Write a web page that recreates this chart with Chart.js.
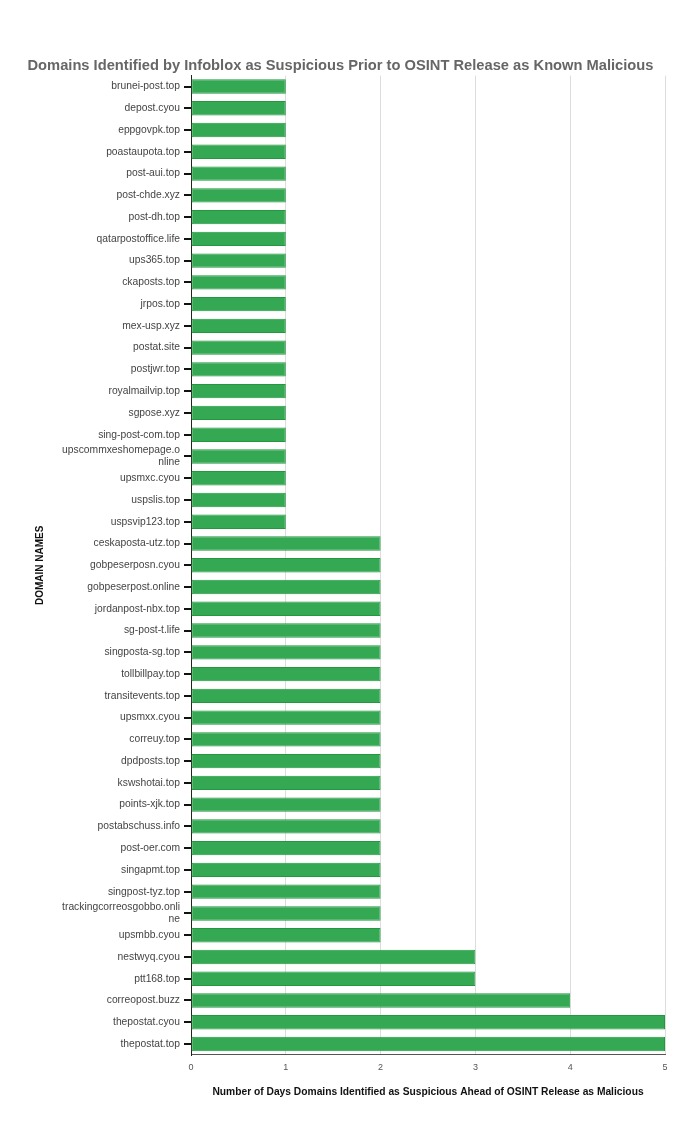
<!DOCTYPE html>
<html>
<head>
<meta charset="utf-8">
<script src="https://cdn.jsdelivr.net/npm/chart.js@4.4.1/dist/chart.umd.min.js"></script>
<style>
html,body{margin:0;padding:0;background:#fff;}
#wrap{width:700px;height:1132px;position:relative;}
</style>
</head>
<body>
<div id="wrap"><canvas id="c"></canvas></div>
<script>
const chartTitle = "Domains Identified by Infoblox as Suspicious Prior to OSINT Release as Known Malicious";
const xTitle = "Number of Days Domains Identified as Suspicious Ahead of OSINT Release as Malicious";
const yTitle = "DOMAIN NAMES";
const domains = [
  "brunei-post.top","depost.cyou","eppgovpk.top","poastaupota.top","post-aui.top","post-chde.xyz",
  "post-dh.top","qatarpostoffice.life","ups365.top","ckaposts.top","jrpos.top","mex-usp.xyz",
  "postat.site","postjwr.top","royalmailvip.top","sgpose.xyz","sing-post-com.top",
  ["upscommxeshomepage.o","nline"],"upsmxc.cyou","uspslis.top","uspsvip123.top",
  "ceskaposta-utz.top","gobpeserposn.cyou","gobpeserpost.online","jordanpost-nbx.top","sg-post-t.life",
  "singposta-sg.top","tollbillpay.top","transitevents.top","upsmxx.cyou","correuy.top","dpdposts.top",
  "kswshotai.top","points-xjk.top","postabschuss.info","post-oer.com","singapmt.top","singpost-tyz.top",
  ["trackingcorreosgobbo.onli","ne"],"upsmbb.cyou","nestwyq.cyou","ptt168.top","correopost.buzz",
  "thepostat.cyou","thepostat.top"
];
const days = [
  1,1,1,1,1,1,1,1,1,1,1,1,1,1,1,1,1,1,1,1,1,
  2,2,2,2,2,2,2,2,2,2,2,2,2,2,2,2,2,2,2,
  3,3,4,5,5
];
const xTicks = [0,1,2,3,4,5];
const FONT = 'Liberation Sans, Arial, sans-serif';

new Chart(document.getElementById('c'), {
  type: 'bar',
  data: {
    labels: domains,
    datasets: [{
      data: days,
      backgroundColor: '#34a853',
      borderColor: '#23983f',
      borderWidth: 1,
      borderSkipped: false,
      categoryPercentage: 1.0,
      barPercentage: 0.66
    }]
  },
  options: {
    indexAxis: 'y',
    responsive: true,
    maintainAspectRatio: false,
    animation: false,
    layout: { padding: { top: 57, left: 16, right: 35, bottom: 30 } },
    plugins: {
      legend: { display: false },
      tooltip: { enabled: false },
      title: {
        display: true,
        text: chartTitle,
        color: '#666666',
        font: { family: FONT, size: 14.7, weight: 'bold' },
        padding: { top: 0, bottom: 1 }
      }
    },
    scales: {
      x: {
        min: 0, max: 5,
        afterBuildTicks: (s) => { s.ticks = xTicks.map(v => ({ value: v })); },
        grid: { color: '#dddddd', lineWidth: 1, drawTicks: false },
        border: { color: '#555555', width: 1 },
        ticks: { color: '#555555', padding: 7, font: { family: FONT, size: 9 } },
        title: {
          display: true, text: xTitle, color: '#111111',
          font: { family: FONT, size: 10.25, weight: 'bold' },
          padding: { top: 6, bottom: 4 }
        }
      },
      y: {
        afterFit: (s) => { s.width = 175; },
        grid: { offset: false, drawOnChartArea: false, drawTicks: true, tickLength: 7, color: '#111111', lineWidth: 2 },
        border: { color: '#222222', width: 1 },
        ticks: { color: '#444444', padding: 4, autoSkip: false, font: { family: FONT, size: 10.3 } },
        title: {
          display: true, text: yTitle, color: '#111111',
          font: { family: FONT, size: 10, weight: 'bold' },
          padding: { top: 18, bottom: 4 }
        }
      }
    }
  }
});
</script>
</body>
</html>
